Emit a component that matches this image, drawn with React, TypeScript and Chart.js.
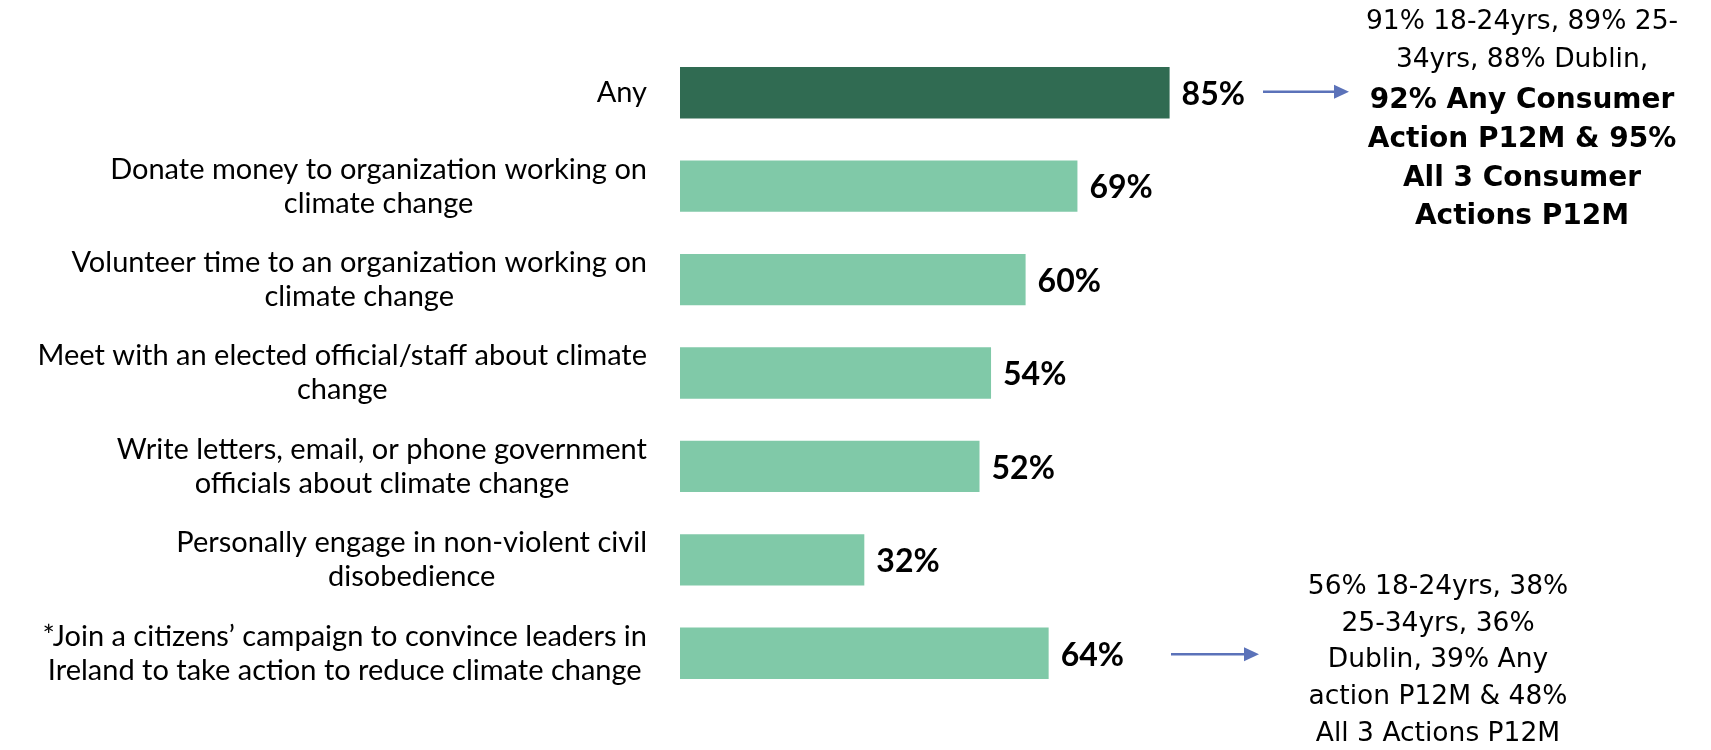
import React, { useEffect, useRef } from "react";
import { Chart, registerables } from "chart.js";

Chart.register(...registerables);

const categories: string[][] = [
  ["Any"],
  ["Donate money to organization working on", "climate change"],
  ["Volunteer time to an organization working on", "climate change"],
  ["Meet with an elected official/staff about climate", "change"],
  ["Write letters, email, or phone government", "officials about climate change"],
  ["Personally engage in non-violent civil", "disobedience"],
  ["*Join a citizens\u2019 campaign to convince leaders in", "Ireland to take action to reduce climate change"],
];
const values: number[] = [85, 69, 60, 54, 52, 32, 64];
const valueLabels: string[] = values.map((v) => `${v}%`);
const highlightIndex = 0;

const topNoteRegular: string[] = ["91% 18-24yrs, 89% 25-", "34yrs, 88% Dublin,"];
const topNoteBold: string[] = ["92% Any Consumer", "Action P12M & 95%", "All 3 Consumer", "Actions P12M"];
const bottomNote: string[] = [
  "56% 18-24yrs, 38%",
  "25-34yrs, 36%",
  "Dublin, 39% Any",
  "action P12M & 48%",
  "All 3 Actions P12M",
];
const topNoteIndex = 0;
const bottomNoteIndex = 6;

const DARK = "#306B52";
const LIGHT = "#80C9A8";
const ARROW = "#5B72B9";
const LABEL_FONT = "Lato";
const NOTE_FONT = "'DejaVu Sans'";

function drawArrow(ctx: CanvasRenderingContext2D, x1: number, x2: number, y: number) {
  const head = 15;
  ctx.save();
  ctx.strokeStyle = ARROW;
  ctx.fillStyle = ARROW;
  ctx.lineWidth = 2.5;
  ctx.beginPath();
  ctx.moveTo(x1, y);
  ctx.lineTo(x2 - head + 1, y);
  ctx.stroke();
  ctx.beginPath();
  ctx.moveTo(x2, y);
  ctx.lineTo(x2 - head, y - 7);
  ctx.lineTo(x2 - head, y + 7);
  ctx.closePath();
  ctx.fill();
  ctx.restore();
}

const overlayPlugin = {
  id: "overlay",
  afterDatasetsDraw(chart: any) {
    const ctx: CanvasRenderingContext2D = chart.ctx;
    const yScale = chart.scales.y;
    const meta = chart.getDatasetMeta(0);
    const area = chart.chartArea;

    // category labels: block right-aligned, lines centred within block
    ctx.save();
    ctx.fillStyle = "#000";
    ctx.textBaseline = "middle";
    ctx.textAlign = "center";
    ctx.font = `29px ${LABEL_FONT}`;
    const lineH = 34;
    const rightEdge = area.left - 33;
    categories.forEach((lines, i) => {
      const cy = yScale.getPixelForValue(i);
      const widest = Math.max(...lines.map((l) => ctx.measureText(l).width));
      const cx = rightEdge - widest / 2;
      const startY = cy - ((lines.length - 1) * lineH) / 2;
      lines.forEach((l, j) => ctx.fillText(l, cx, startY + j * lineH));
    });
    ctx.restore();

    // value labels
    ctx.save();
    ctx.fillStyle = "#000";
    ctx.textBaseline = "middle";
    ctx.textAlign = "left";
    ctx.font = `bold 32px ${LABEL_FONT}`;
    meta.data.forEach((bar: any, i: number) => {
      ctx.fillText(valueLabels[i], bar.x + 12, bar.y + 2);
    });
    ctx.restore();

    // arrows
    const yTop = yScale.getPixelForValue(topNoteIndex);
    const yBot = yScale.getPixelForValue(bottomNoteIndex);
    drawArrow(ctx, 1263, 1349, yTop - 1);
    drawArrow(ctx, 1171, 1259, yBot + 1);

    // notes
    ctx.save();
    ctx.fillStyle = "#000";
    ctx.textBaseline = "middle";
    ctx.textAlign = "center";
    let y = 22;
    const topStep = 38.6;
    ctx.font = `26.5px ${NOTE_FONT}`;
    topNoteRegular.forEach((l) => {
      ctx.fillText(l, 1522, y);
      y += topStep;
    });
    ctx.font = `bold 28px ${NOTE_FONT}`;
    topNoteBold.forEach((l) => {
      ctx.fillText(l, 1522, y + 2);
      y += topStep;
    });
    ctx.font = `26.5px ${NOTE_FONT}`;
    let y2 = 587;
    bottomNote.forEach((l) => {
      ctx.fillText(l, 1438, y2);
      y2 += 36.8;
    });
    ctx.restore();
  },
};

export default function App() {
  const ref = useRef<HTMLCanvasElement | null>(null);
  useEffect(() => {
    document.body.style.margin = "0";
    if (!ref.current) return;
    const chart = new Chart(ref.current, {
      type: "bar",
      data: {
        labels: categories.map((c) => c.join(" ")),
        datasets: [
          {
            data: values,
            backgroundColor: values.map((_, i) => (i === highlightIndex ? DARK : LIGHT)),
            borderWidth: 0,
            barPercentage: 0.55,
            categoryPercentage: 1,
          },
        ],
      },
      options: {
        indexAxis: "y",
        animation: false,
        responsive: false,
        maintainAspectRatio: false,
        layout: { padding: { left: 680, right: 455, top: 46, bottom: 50 } },
        plugins: { legend: { display: false }, tooltip: { enabled: false }, title: { display: false } },
        scales: {
          x: { display: false, min: 0, max: 100 },
          y: { display: false },
        },
      },
      plugins: [overlayPlugin],
    });
    return () => chart.destroy();
  }, []);
  return (
    <div style={{ width: 1711, height: 750, background: "#fff" }}>
      <canvas ref={ref} width={1711} height={750} style={{ display: "block" }} />
    </div>
  );
}
